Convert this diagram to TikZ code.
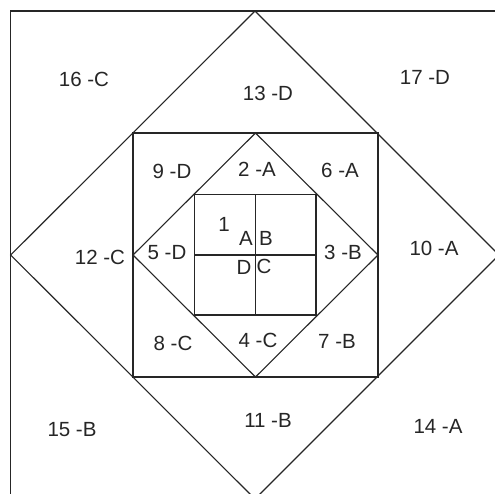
\documentclass[tikz,border=0pt]{standalone}
\usepackage{fontspec}
\setmainfont{Liberation Sans}
\begin{document}
\begin{tikzpicture}[x=1pt,y=-1pt,
  edge/.style={line width=1.1pt,draw=black!85},
  lab/.style={inner sep=0pt,text=black!85,font=\fontsize{20.5}{20.5}\selectfont}]
\useasboundingbox (0,0) rectangle (495,493);
\clip (0,0) rectangle (495,493);
\fill[white] (0,0) rectangle (495,493);
% outer frame
\draw[edge] (10.7,560) -- (10.7,11) -- (560,11);
% outer diamond
\draw[edge] (255,11) -- (499,255) -- (255,499) -- (10.7,255) -- cycle;
% middle square
\draw[edge] (133,133) rectangle (378,377);
% inner diamond
\draw[edge] (255.5,133) -- (378,255) -- (255.5,377) -- (133,255) -- cycle;
% inner square
\draw[edge] (194.5,194.5) rectangle (316,315);
\draw[edge] (255.5,194.5) -- (255.5,315);
\draw[edge] (194.5,255) -- (316,255);
% labels
\node[lab] (l16) at (84,79) {16 -C};
\node[lab] (l13) at (268,93) {13 -D};
\node[lab] (l17) at (425,77) {17 -D};
\node[lab] (l9) at (172,171) {9 -D};
\node[lab] (l2) at (257,169) {2 -A};
\node[lab] (l6) at (340,170) {6 -A};
\node[lab] (l1) at (224,224) {1};
\node[lab] (la) at (246,238) {A};
\node[lab] (lb) at (266,238) {B};
\node[lab] (ld) at (244,267) {D};
\node[lab] (lc) at (264,266) {C};
\node[lab] (l12) at (100,257) {12 -C};
\node[lab] (l5) at (167,253) {5 -D};
\node[lab] (l3) at (343,252) {3 -B};
\node[lab] (l10) at (434,248) {10 -A};
\node[lab] (l8) at (173,343) {8 -C};
\node[lab] (l4) at (258,340) {4 -C};
\node[lab] (l7) at (337,341) {7 -B};
\node[lab] (l15) at (72,430) {15 -B};
\node[lab] (l11) at (268,420) {11 -B};
\node[lab] (l14) at (438,426) {14 -A};
\end{tikzpicture}
\end{document}
